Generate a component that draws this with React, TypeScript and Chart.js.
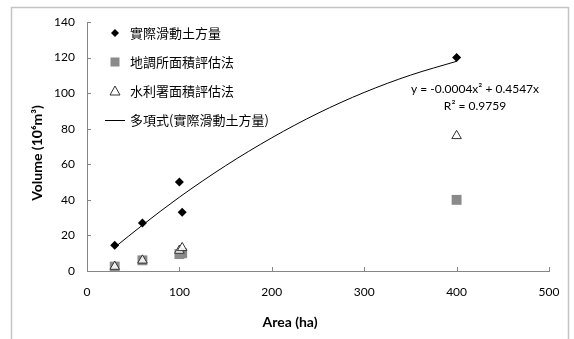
import React, { useEffect, useRef } from 'react';
import { Chart, registerables } from 'chart.js';

Chart.register(...registerables);

// ---- data ----
const measuredArea = [30, 60, 100, 103, 400];
const measuredVolume = [14.5, 27, 50, 33, 120];
const surveyArea = [30, 60, 100, 103, 400];
const surveyVolume = [2.5, 6, 9.5, 10, 40];
const wraArea = [30, 60, 100, 103, 400];
const wraVolume = [2.5, 6, 11.5, 13, 76];
const trendArea = [30, 60, 100, 150, 200, 250, 300, 350, 400];
const trendVolume = [13.3, 25.8, 41.5, 59.2, 74.9, 88.7, 100.4, 110.1, 117.9];

const xTicks = [0, 100, 200, 300, 400, 500];
const yTicks = [0, 20, 40, 60, 80, 100, 120, 140];

const seriesNames = ['實際滑動土方量', '地調所面積評估法', '水利署面積評估法'];
const trendName = '多項式(實際滑動土方量)';
const equationLines = ['y = -0.0004x² + 0.4547x', 'R² = 0.9759'];
const xTitle = 'Area (ha)';
const yTitle = 'Volume (10⁶m³)';

const LATIN = 'Lato, "Open Sans", sans-serif';
const CJK = '"Noto Sans CJK TC", "Noto Sans CJK SC", sans-serif';

function toPoints(xs: number[], ys: number[]) {
  return xs.map((x, i) => ({ x, y: ys[i] }));
}

const decorPlugin = {
  id: 'decor',
  beforeDraw(chart: any) {
    const ctx = chart.ctx;
    ctx.save();
    ctx.strokeStyle = '#c4c4c4';
    ctx.lineWidth = 1.5;
    ctx.strokeRect(11.5, 7.5, 557, 400);
    ctx.restore();
  },
  afterDraw(chart: any) {
    const ctx = chart.ctx;
    const xs = chart.scales.x;
    const ys = chart.scales.y;
    const area = chart.chartArea;
    ctx.save();
    // inside tick marks
    ctx.strokeStyle = '#868686';
    ctx.lineWidth = 1;
    ctx.beginPath();
    xTicks.forEach((t) => {
      const px = Math.round(xs.getPixelForValue(t)) + 0.5;
      ctx.moveTo(px, area.bottom);
      ctx.lineTo(px, area.bottom - 4);
    });
    yTicks.forEach((t) => {
      const py = Math.round(ys.getPixelForValue(t)) + 0.5;
      ctx.moveTo(area.left, py);
      ctx.lineTo(area.left + 4, py);
    });
    ctx.stroke();

    // axis titles
    ctx.fillStyle = '#000';
    ctx.font = `bold 14px ${LATIN}`;
    ctx.textAlign = 'center';
    ctx.textBaseline = 'middle';
    ctx.fillText(xTitle, 290, 322);
    ctx.save();
    ctx.translate(37, 153);
    ctx.rotate(-Math.PI / 2);
    ctx.fillText(yTitle, 0, 0);
    ctx.restore();

    // equation
    ctx.font = `12px ${LATIN}`;
    ctx.fillStyle = '#000';
    ctx.fillText(equationLines[0], 475, 89);
    ctx.fillText(equationLines[1], 475, 106);

    // legend
    const mx = 115;
    const tx = 130;
    const rows = [33, 62, 91, 120];
    ctx.textAlign = 'left';
    ctx.font = `13px ${CJK}`;
    // diamond
    ctx.fillStyle = '#000';
    ctx.beginPath();
    ctx.moveTo(mx, rows[0] - 4);
    ctx.lineTo(mx + 4, rows[0]);
    ctx.lineTo(mx, rows[0] + 4);
    ctx.lineTo(mx - 4, rows[0]);
    ctx.closePath();
    ctx.fill();
    // square
    ctx.fillStyle = '#8a8a8a';
    ctx.fillRect(mx - 4.5, rows[1] - 4.5, 9, 9);
    // triangle
    ctx.fillStyle = '#fff';
    ctx.strokeStyle = '#333';
    ctx.lineWidth = 1;
    ctx.beginPath();
    ctx.moveTo(mx, rows[2] - 5);
    ctx.lineTo(mx + 5, rows[2] + 4);
    ctx.lineTo(mx - 5, rows[2] + 4);
    ctx.closePath();
    ctx.fill();
    ctx.stroke();
    // line
    ctx.strokeStyle = '#000';
    ctx.beginPath();
    ctx.moveTo(105, rows[3] + 0.5);
    ctx.lineTo(125, rows[3] + 0.5);
    ctx.stroke();

    ctx.fillStyle = '#000';
    seriesNames.forEach((n, i) => ctx.fillText(n, tx, rows[i]));
    ctx.fillText(trendName, tx, rows[3]);
    ctx.restore();
  },
};

export default function App() {
  const ref = useRef<HTMLCanvasElement | null>(null);
  useEffect(() => {
    if (!ref.current) return;
    const chart = new Chart(ref.current, {
      type: 'scatter',
      data: {
        datasets: [
          {
            label: trendName,
            type: 'line',
            data: toPoints(trendArea, trendVolume),
            borderColor: '#000',
            borderWidth: 1,
            pointRadius: 0,
            fill: false,
            cubicInterpolationMode: 'monotone',
            order: 0,
          } as any,
          {
            label: seriesNames[0],
            data: toPoints(measuredArea, measuredVolume),
            pointStyle: 'rectRot',
            pointRadius: 4.5,
            backgroundColor: '#000',
            borderColor: '#000',
            borderWidth: 0,
            order: 1,
          },
          {
            label: seriesNames[2],
            data: toPoints(wraArea, wraVolume),
            pointStyle: 'triangle',
            pointRadius: 5.5,
            backgroundColor: 'rgba(255,255,255,0.85)',
            borderColor: '#333',
            borderWidth: 1,
            order: 2,
          },
          {
            label: seriesNames[1],
            data: toPoints(surveyArea, surveyVolume),
            pointStyle: 'rect',
            pointRadius: 7,
            backgroundColor: '#8a8a8a',
            borderColor: '#8a8a8a',
            borderWidth: 0,
            order: 3,
          },
        ],
      },
      options: {
        animation: false,
        responsive: false,
        devicePixelRatio: 1,
        layout: { padding: { left: 0, top: 22, right: 25, bottom: 0 } },
        plugins: { legend: { display: false }, tooltip: { enabled: false } },
        scales: {
          x: {
            type: 'linear',
            min: 0,
            max: 500,
            afterBuildTicks: (s: any) => {
              s.ticks = xTicks.map((v) => ({ value: v }));
            },
            afterFit: (s: any) => {
              s.height = 68;
            },
            grid: { display: false, drawTicks: false },
            border: { display: true, color: '#868686', width: 1 },
            ticks: { color: '#000', font: { family: LATIN, size: 12 }, padding: 14, maxRotation: 0 },
          },
          y: {
            type: 'linear',
            min: 0,
            max: 140,
            afterBuildTicks: (s: any) => {
              s.ticks = yTicks.map((v) => ({ value: v }));
            },
            afterFit: (s: any) => {
              s.width = 87;
            },
            grid: { display: false, drawTicks: false },
            border: { display: true, color: '#868686', width: 1 },
            ticks: { color: '#000', font: { family: LATIN, size: 12 }, padding: 12 },
          },
        },
      },
      plugins: [decorPlugin],
    });
    return () => chart.destroy();
  }, []);
  return (
    <div style={{ position: 'fixed', left: 0, top: 0, width: 574, height: 339, background: '#fff' }}>
      <canvas ref={ref} width={574} height={339} style={{ display: 'block' }} />
    </div>
  );
}
